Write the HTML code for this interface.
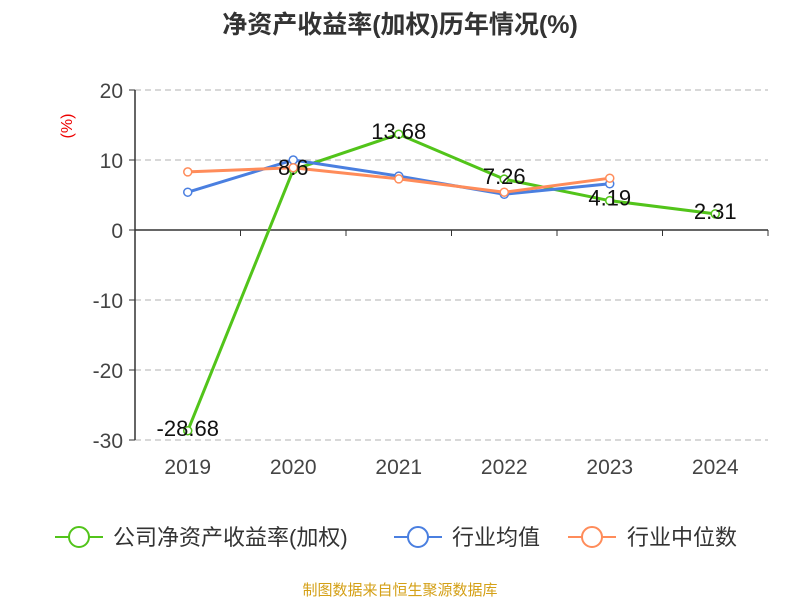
<!DOCTYPE html>
<html><head><meta charset="utf-8"><style>
body{margin:0;background:#fff;}
svg text{font-family:"Liberation Sans","Noto Sans CJK SC",sans-serif;}
</style></head><body>
<svg id="chart" width="800" height="600">
<text x="400" y="33" text-anchor="middle" font-size="25" font-weight="bold" fill="#333">净资产收益率(加权)历年情况(%)</text>
<text x="72" y="126" text-anchor="middle" font-size="16" fill="#e00" transform="rotate(-90 72 126)">(%)</text>
<g id="grid"></g><g id="axes"></g><g id="series"></g><g id="labels"></g>
<g>
<g><line x1="55" y1="537" x2="103" y2="537" stroke="#52c41a" stroke-width="2"/><circle cx="79" cy="537" r="10" fill="#fff" stroke="#52c41a" stroke-width="2"/><text x="113" y="545" font-size="22" fill="#333">公司净资产收益率(加权)</text></g>
<g><line x1="394" y1="537" x2="442" y2="537" stroke="#4a7fe0" stroke-width="2"/><circle cx="418" cy="537" r="10" fill="#fff" stroke="#4a7fe0" stroke-width="2"/><text x="452" y="545" font-size="22" fill="#333">行业均值</text></g>
<g><line x1="568" y1="537" x2="616" y2="537" stroke="#ff8c5a" stroke-width="2"/><circle cx="592" cy="537" r="10" fill="#fff" stroke="#ff8c5a" stroke-width="2"/><text x="627" y="545" font-size="22" fill="#333">行业中位数</text></g>
</g>
<text x="400" y="595" text-anchor="middle" font-size="15" fill="#d4a017">制图数据来自恒生聚源数据库</text>
</svg>
<script>
const categories=["2019","2020","2021","2022","2023","2024"];
const companyValues=[-28.68,8.6,13.68,7.26,4.19,2.31];
const industryAvg=[5.4,10.0,7.7,5.1,6.6,null];
const industryMedian=[8.3,8.9,7.3,5.4,7.4,null];
const yTicks=[20,10,0,-10,-20,-30];
const NS="http://www.w3.org/2000/svg";
const X0=135,X1=768,band=(X1-X0)/categories.length;
const xs=i=>X0+band*(i+0.5);
const ys=v=>230-v*7;
function mk(tag,attrs,parent){const e=document.createElementNS(NS,tag);for(const k in attrs)e.setAttribute(k,attrs[k]);document.getElementById(parent).appendChild(e);return e;}
yTicks.forEach(t=>{
 if(t!==0){const g=mk('line',{x1:X0,x2:X1,y1:ys(t),y2:ys(t),stroke:'#ccc','stroke-dasharray':'6,4','stroke-width':1.5},'grid');
 
 }
 const tk=mk('line',{x1:X0-6,x2:X0,y1:ys(t),y2:ys(t),stroke:'#333'},'axes');
 
 
 const tx=mk('text',{x:X0-12,y:ys(t)+8,'text-anchor':'end','font-size':21,fill:'#444'},'axes');tx.textContent=t;
 
 
});
const ya=mk('line',{x1:X0,x2:X0,y1:ys(20),y2:ys(-30),stroke:'#333','stroke-width':1.5},'axes');


const xa=mk('line',{x1:X0,x2:X1,y1:ys(0),y2:ys(0),stroke:'#333','stroke-width':1.5},'axes');


for(let i=0;i<=categories.length;i++){const t=mk('line',{x1:X0+band*i,x2:X0+band*i,y1:ys(0),y2:ys(0)+6,stroke:'#333'},'axes');
 
 }
categories.forEach((c,i)=>{const t=mk('text',{x:xs(i),y:474,'text-anchor':'middle','font-size':21,fill:'#444'},'axes');t.textContent=c;
 
 });
function series(vals,color,name){
 const pts=vals.map((v,i)=>v==null?null:[xs(i),ys(v)]).filter(p=>p);
 const pl=mk('polyline',{points:pts.map(p=>p.join(',')).join(' '),fill:'none',stroke:color,'stroke-width':3,'stroke-linejoin':'round'},'series');
 
 
 pts.forEach(p=>{const c=mk('circle',{cx:p[0],cy:p[1],r:4,fill:'#fff',stroke:color,'stroke-width':1.5},'series');
 
 });
}
series(companyValues,'#52c41a','company-roe');
series(industryAvg,'#4a7fe0','industry-avg');
series(industryMedian,'#ff8c5a','industry-median');
companyValues.forEach((v,i)=>{const t=mk('text',{x:xs(i),y:ys(v)+5,'text-anchor':'middle','font-size':22,fill:'#111'},'labels');t.textContent=v;
 
 });
</script>
</body></html>
